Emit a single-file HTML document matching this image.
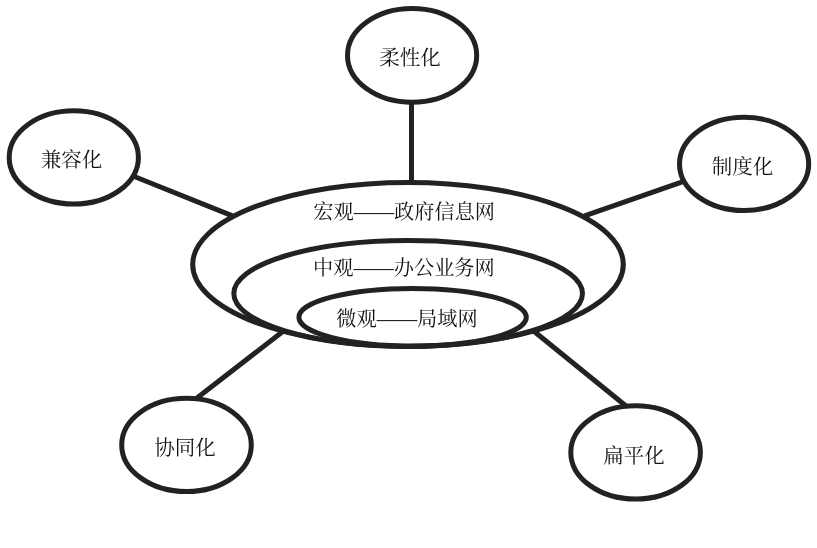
<!DOCTYPE html>
<html lang="zh-CN">
<head>
<meta charset="utf-8">
<title>diagram</title>
<style>
html,body{margin:0;padding:0;background:#fff;}
body{width:817px;height:548px;overflow:hidden;}
svg{display:block;filter:grayscale(1);}
text{font-family:"Liberation Serif","Noto Serif CJK SC",serif;font-size:20px;font-weight:400;fill:#111;text-anchor:middle;}
.t{font-size:20.5px;}
.u{font-size:20.2px;}
.s{fill:none;stroke:#222;stroke-width:5;}
.l{stroke:#222;stroke-width:5;stroke-linecap:butt;}
</style>
</head>
<body>
<svg width="817" height="548" viewBox="0 0 817 548">
<rect width="817" height="548" fill="#fff"/>
<line class="l" x1="411.5" y1="102" x2="411.5" y2="182"/>
<line class="l" x1="133" y1="176" x2="232.5" y2="215.9"/>
<line class="l" x1="584.5" y1="215.8" x2="683" y2="181.6"/>
<line class="l" x1="284.4" y1="330.3" x2="196" y2="398.7"/>
<line class="l" x1="533" y1="330.5" x2="626" y2="406"/>
<ellipse class="s" cx="412.1" cy="55.4" rx="64.6" ry="46.8"/>
<ellipse class="s" cx="73.8" cy="157.4" rx="64.6" ry="46.6"/>
<ellipse class="s" cx="744.1" cy="163.9" rx="64.6" ry="46.6"/>
<ellipse class="s" cx="186.5" cy="444.9" rx="64.8" ry="46.6"/>
<ellipse class="s" cx="635.6" cy="452.4" rx="64.8" ry="46.6"/>
<ellipse class="s" cx="408" cy="264.4" rx="215.3" ry="82"/>
<ellipse class="s" cx="408.15" cy="293.45" rx="174.35" ry="52.95"/>
<ellipse class="s" cx="412.6" cy="317.3" rx="113.7" ry="28.8"/>
<text class="t" x="409.9" y="65.4">柔性化</text>
<text class="t" x="71.6" y="166.8">兼容化</text>
<text class="t" x="742.4" y="173.6">制度化</text>
<text class="t" x="185.1" y="455">协同化</text>
<text class="t" x="634.1" y="462.8">扁平化</text>
<text class="u" x="404.2" y="218.6">宏观——政府信息网</text>
<text class="u" x="403.9" y="275.2">中观——办公业务网</text>
<text class="u" x="407" y="326.4">微观——局域网</text>
</svg>
</body>
</html>
